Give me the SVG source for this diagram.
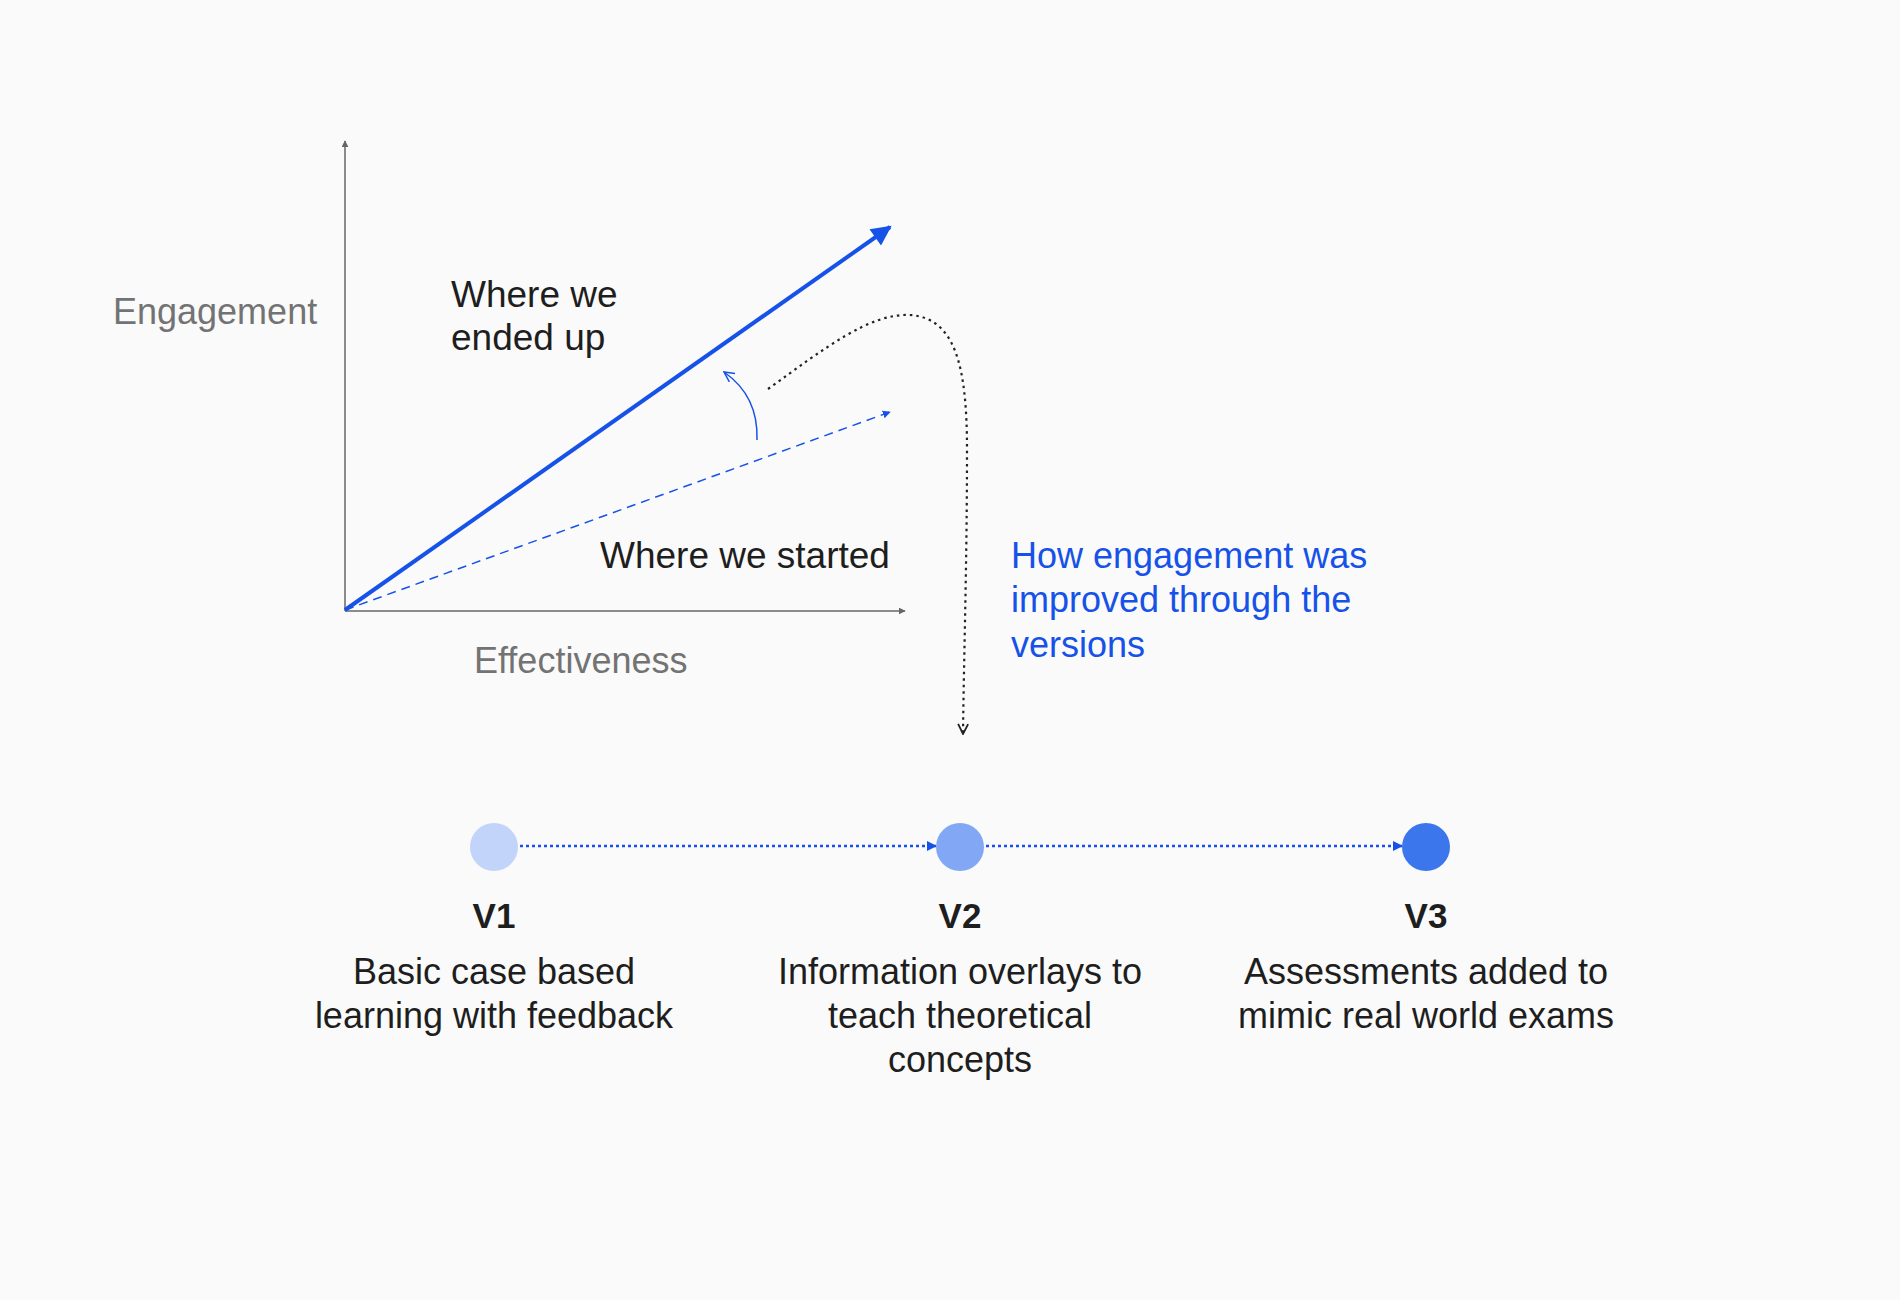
<svg xmlns="http://www.w3.org/2000/svg" width="1900" height="1300" viewBox="0 0 1900 1300">
<style>
  text { font-family: "Liberation Sans", Arial, sans-serif; }
  .axis-label { font-size: 36px; fill: #737373; }
  .chart-label { font-size: 37px; fill: #1e1e1e; }
  .note { font-size: 36px; fill: #1652e8; }
  .ver { font-size: 35px; font-weight: 700; fill: #1e1e1e; text-anchor: middle; }
  .desc { font-size: 36px; fill: #1e1e1e; text-anchor: middle; }
  .axis { stroke: #666666; stroke-width: 1.5; fill: none; }
  .link { stroke: #1652e8; stroke-width: 2.5; stroke-dasharray: 3 3; fill: none; }
</style>
<defs>
  <marker id="axisHead" viewBox="0 0 10 10" refX="9" refY="5" markerWidth="7" markerHeight="7" markerUnits="userSpaceOnUse" orient="auto">
    <path d="M0,0 L10,5 L0,10 z" fill="#666666"/>
  </marker>
  <marker id="bigHead" viewBox="0 0 10 10" refX="9" refY="5" markerWidth="22" markerHeight="20" markerUnits="userSpaceOnUse" orient="auto">
    <path d="M0,0 L10,5 L0,10 z" fill="#1652e8"/>
  </marker>
  <marker id="smallBlue" viewBox="0 0 10 10" refX="9" refY="5" markerWidth="8" markerHeight="8" markerUnits="userSpaceOnUse" orient="auto">
    <path d="M0,0 L10,5 L0,10 z" fill="#1652e8"/>
  </marker>
  <marker id="linkHead" viewBox="0 0 10 10" refX="9" refY="5" markerWidth="10" markerHeight="10" markerUnits="userSpaceOnUse" orient="auto">
    <path d="M0,0 L10,5 L0,10 z" fill="#1652e8"/>
  </marker>
  <marker id="openBlue" viewBox="0 0 12 12" refX="11" refY="6" markerWidth="12" markerHeight="12" markerUnits="userSpaceOnUse" orient="auto">
    <path d="M1,1 L11,6 L1,11" fill="none" stroke="#1652e8" stroke-width="1.5"/>
  </marker>
  <marker id="openBlack" viewBox="0 0 12 12" refX="11" refY="6" markerWidth="12" markerHeight="12" markerUnits="userSpaceOnUse" orient="auto">
    <path d="M1,1 L11,6 L1,11" fill="none" stroke="#222222" stroke-width="1.8"/>
  </marker>
</defs>
<rect width="1900" height="1300" fill="#fafafa"/>

<g id="chart">
  <line class="axis" x1="345" y1="611" x2="345" y2="141" marker-end="url(#axisHead)"/>
  <line class="axis" x1="345" y1="611" x2="905" y2="611" marker-end="url(#axisHead)"/>
  <text class="axis-label" x="113" y="324">Engagement</text>
  <text class="axis-label" x="474" y="673">Effectiveness</text>
  <line x1="345" y1="610" x2="890" y2="227" stroke="#1652e8" stroke-width="4" marker-end="url(#bigHead)"/>
  <line x1="345" y1="610" x2="890" y2="412" stroke="#1652e8" stroke-width="1.5" stroke-dasharray="9 6" marker-end="url(#smallBlue)"/>
  <path d="M757,440 C758,412 747,388 724,372" fill="none" stroke="#1652e8" stroke-width="1.5" marker-end="url(#openBlue)"/>
  <text class="chart-label" x="451" y="307">Where we</text>
  <text class="chart-label" x="451" y="350">ended up</text>
  <text class="chart-label" x="600" y="568">Where we started</text>
</g>

<g id="note">
  <text class="note" x="1011" y="568">How engagement was</text>
  <text class="note" x="1011" y="612">improved through the</text>
  <text class="note" x="1011" y="657">versions</text>
</g>

<g id="connectors">
  <path d="M768,389 C825,348 870,313 910,315 C955,318 967,365 967,450 C967,560 964,650 963,734" fill="none" stroke="#222222" stroke-width="2.2" stroke-dasharray="2.5 4" marker-end="url(#openBlack)"/>
  <line class="link" x1="520" y1="846" x2="936" y2="846" marker-end="url(#linkHead)"/>
  <line class="link" x1="986" y1="846" x2="1402" y2="846" marker-end="url(#linkHead)"/>
</g>

<g id="v1">
  <circle cx="494" cy="847" r="24" fill="#c2d4fa"/>
  <text class="ver" x="494" y="928">V1</text>
  <text class="desc" x="494" y="984">Basic case based</text>
  <text class="desc" x="494" y="1028">learning with feedback</text>
</g>
<g id="v2">
  <circle cx="960" cy="847" r="24" fill="#82a8f5"/>
  <text class="ver" x="960" y="928">V2</text>
  <text class="desc" x="960" y="984">Information overlays to</text>
  <text class="desc" x="960" y="1028">teach theoretical</text>
  <text class="desc" x="960" y="1072">concepts</text>
</g>
<g id="v3">
  <circle cx="1426" cy="847" r="24" fill="#3b76ec"/>
  <text class="ver" x="1426" y="928">V3</text>
  <text class="desc" x="1426" y="984">Assessments added to</text>
  <text class="desc" x="1426" y="1028">mimic real world exams</text>
</g>
</svg>
